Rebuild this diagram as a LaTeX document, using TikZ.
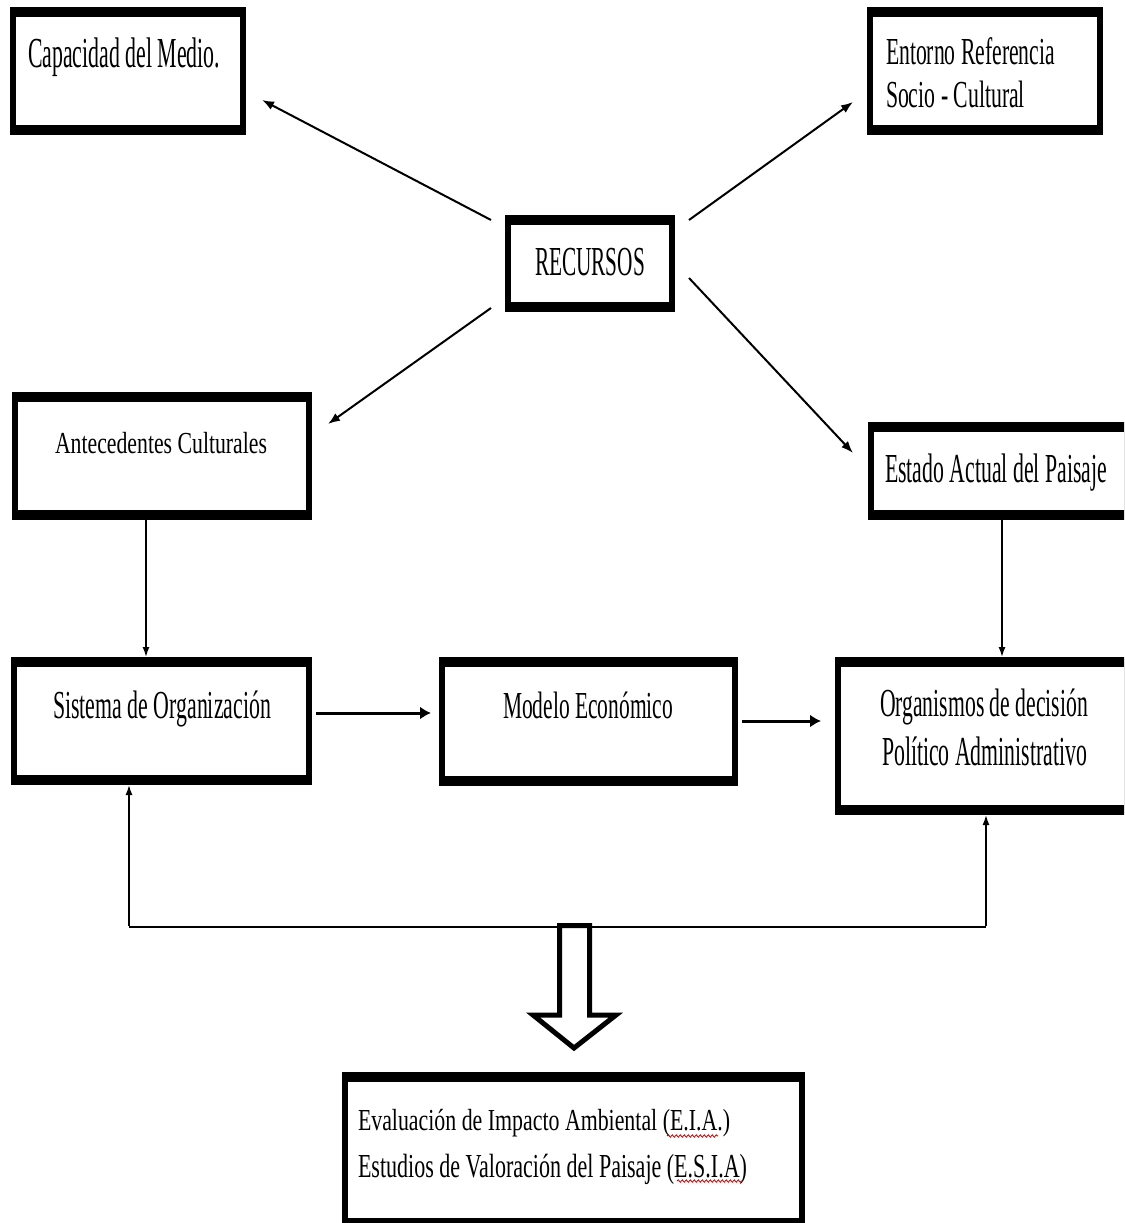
\documentclass[tikz,border=0pt]{standalone}
\usepackage{fontspec}
\setmainfont{Liberation Serif}
\usepackage{graphicx}
\usetikzlibrary{arrows.meta,decorations.pathmorphing}
\newcommand\fitt[3]{\resizebox{#1pt}{#2pt}{\smash{#3}\vphantom{H}}}
\tikzset{
  boxframe/.style={fill=black, draw=none, inner sep=0pt, outer sep=0pt},
  boxfill/.style={fill=white, draw=none, inner sep=0pt, outer sep=0pt},
  txt/.style={inner sep=0pt, outer sep=0pt, anchor=base west},
  diag/.style={line width=2pt, -{Latex[length=12pt,width=9pt]}},
  vert/.style={line width=1.5pt, -{Latex[length=10pt,width=7pt]}},
  horiz/.style={line width=3pt, -{Latex[length=11pt,width=13pt]}},
  fbline/.style={line width=2.5pt},
  spell/.style={red!85!black, line width=0.8pt, decorate, decoration={snake, amplitude=1.2pt, segment length=4pt}},
}
\begin{document}
\begin{tikzpicture}[x=1pt,y=-1pt]
\useasboundingbox (0,0) rectangle (1124,1223);
\clip (0,0) rectangle (1124,1223);
\fill[white] (0,0) rectangle (1124,1223);

% boxes
\node[boxframe, minimum width=236pt, minimum height=128pt] (cap) at (128,71) {};
\node[boxfill, minimum width=224pt, minimum height=108pt] (cap-in) at (cap) {};
\node[boxframe, minimum width=236pt, minimum height=128pt] (ent) at (985,71) {};
\node[boxfill, minimum width=224pt, minimum height=108pt] (ent-in) at (ent) {};
\node[boxframe, minimum width=170pt, minimum height=97pt] (rec) at (590,263.5) {};
\node[boxfill, minimum width=158pt, minimum height=77pt] (rec-in) at (rec) {};
\node[boxframe, minimum width=300pt, minimum height=128pt] (ant) at (162,456) {};
\node[boxfill, minimum width=288pt, minimum height=108pt] (ant-in) at (ant) {};
\node[boxframe, minimum width=266pt, minimum height=98pt] (est) at (1001,471) {};
\node[boxfill, minimum width=254pt, minimum height=78pt] (est-in) at (est) {};
\node[boxframe, minimum width=301pt, minimum height=128pt] (sis) at (161.5,721) {};
\node[boxfill, minimum width=289pt, minimum height=108pt] (sis-in) at (sis) {};
\node[boxframe, minimum width=299pt, minimum height=129pt] (mod) at (588.5,721.5) {};
\node[boxfill, minimum width=287pt, minimum height=109pt] (mod-in) at (mod) {};
\node[boxframe, minimum width=299pt, minimum height=158pt] (org) at (984.5,736) {};
\node[boxfill, minimum width=287pt, minimum height=138pt] (org-in) at (org) {};
\node[boxframe, minimum width=463pt, minimum height=156pt] (eia) at (573.5,1150) {};
\node[boxfill, minimum width=451pt, minimum height=136pt] (eia-in) at (eia) {};

% texts
\node[txt] (cap-t) at (28,68) {\fitt{192}{28}{Capacidad del Medio.}};
\node[txt] (ent-t1) at (886,65) {\fitt{169}{25}{Entorno Referencia}};
\node[txt] (ent-t2) at (886,107) {\fitt{139}{25}{Socio - Cultural}};
\node[txt] (rec-t) at (535,275) {\fitt{110}{27}{RECURSOS}};
\node[txt] (ant-t) at (55,453) {\fitt{212}{20}{Antecedentes Culturales}};
\node[txt] (est-t) at (885,482) {\fitt{222}{27}{Estado Actual del Paisaje}};
\node[txt] (sis-t) at (53,718) {\fitt{218}{26}{Sistema de Organización}};
\node[txt] (mod-t) at (503,718) {\fitt{170}{25}{Modelo Económico}};
\node[txt] (org-t1) at (880,716) {\fitt{208}{26}{Organismos de decisión}};
\node[txt] (org-t2) at (882,765) {\fitt{205}{27}{Político Administrativo}};
\node[txt] (eia-t1) at (358,1130) {\fitt{372}{20}{Evaluación de Impacto Ambiental (E.I.A.)}};
\node[txt] (eia-t2) at (358,1177) {\fitt{389}{22}{Estudios de Valoración del Paisaje (E.S.I.A)}};

% spell-check marks
\draw[spell] ([shift={(309,6)}]eia-t1.base west) -- ([shift={(-12,6)}]eia-t1.base east);
\draw[spell] ([shift={(319,4)}]eia-t2.base west) -- ([shift={(-5,4)}]eia-t2.base east);

% diagonal arrows from RECURSOS
\draw[diag] ([shift={(-14,5)}]rec.north west) -- ([shift={(16,-35)}]cap.south east);
\draw[diag] ([shift={(14,5)}]rec.north east) -- ([shift={(-14,-33)}]ent.south west);
\draw[diag] ([shift={(-14,-4)}]rec.south west) -- ([shift={(16,32)}]ant.north east);
\draw[diag] ([shift={(14,-34)}]rec.south east) -- ([shift={(-15,31)}]est.north west);

% vertical arrows
\draw[vert] ([xshift=-16pt]ant.south) -- ([xshift=-15.5pt]sis.north);
\draw[vert] ([xshift=1pt]est.south) -- ([xshift=17.5pt]org.north);

% horizontal arrows
\draw[horiz] ([shift={(4,-8)}]sis.east) -- ([shift={(-8,-8.5)}]mod.west);
\draw[horiz] ([shift={(4,-0.5)}]mod.east) -- ([shift={(-14,-15)}]org.west);

% feedback
\coordinate (fb) at (574,927);
\coordinate (fbl) at ([xshift=-32.5pt]sis.south |- fb);
\coordinate (fbr) at ([xshift=1.5pt]org.south |- fb);
\draw[fbline] (fbl) -- (fbr);
\draw[vert] ([yshift=1pt]fbl) -- ([xshift=-32.5pt]sis.south);
\draw[vert] ([yshift=1pt]fbr) -- ([xshift=1.5pt]org.south);

% block arrow
\draw[line width=5pt, fill=white, line join=miter]
  (559.5,925.5) -- (559.5,1015) -- (533,1015) -- (574,1048) -- (616,1015)
  -- (589.5,1015) -- (589.5,925.5) -- cycle;
\end{tikzpicture}
\end{document}
